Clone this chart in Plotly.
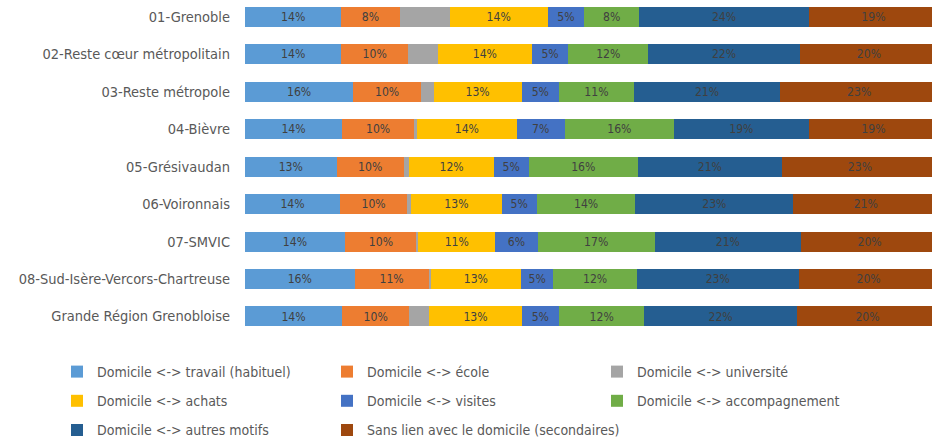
import plotly.graph_objects as go

categories = [
    "01-Grenoble",
    "02-Reste cœur métropolitain",
    "03-Reste métropole",
    "04-Bièvre",
    "05-Grésivaudan",
    "06-Voironnais",
    "07-SMVIC",
    "08-Sud-Isère-Vercors-Chartreuse",
    "Grande Région Grenobloise",
]

series_names = [
    "Domicile <-> travail (habituel)",
    "Domicile <-> école",
    "Domicile <-> université",
    "Domicile <-> achats",
    "Domicile <-> visites",
    "Domicile <-> accompagnement",
    "Domicile <-> autres motifs",
    "Sans lien avec le domicile (secondaires)",
]

travail = [13.9, 13.9, 15.6, 14.0, 13.2, 13.7, 14.4, 15.8, 14.0]
ecole = [8.4, 9.6, 9.8, 10.4, 9.7, 9.7, 10.4, 10.7, 9.7]
universite = [7.2, 4.3, 1.8, 0.4, 0.8, 0.6, 0.2, 0.3, 2.9]
achats = [14.2, 13.6, 12.7, 14.4, 12.2, 13.0, 11.1, 13.0, 13.3]
visites = [5.2, 5.2, 5.4, 6.9, 5.0, 5.1, 6.1, 4.7, 5.4]
accompagnement = [8.0, 11.6, 10.8, 15.8, 15.8, 14.2, 16.9, 12.0, 12.3]
autres = [24.4, 21.8, 21.1, 19.4, 20.7, 22.8, 21.1, 23.4, 22.0]
sans_lien = [18.7, 20.0, 22.8, 18.7, 22.6, 20.9, 19.8, 20.1, 20.4]

series_values = [travail, ecole, universite, achats, visites, accompagnement, autres, sans_lien]
colors = ["#5B9BD5", "#ED7D31", "#A5A5A5", "#FFC000", "#4472C4", "#70AD47", "#255E91", "#9E480E"]
show_labels = [True, True, False, True, True, True, True, True]
legend_ids = ["legend", "legend2", "legend3", "legend", "legend2", "legend3", "legend", "legend2"]

FONT = "DejaVu Sans Condensed, sans-serif"

W, H = 932, 439

fig = go.Figure()
for i, (name, vals) in enumerate(zip(series_names, series_values)):
    fig.add_trace(go.Bar(
        y=categories,
        x=vals,
        name=name,
        orientation="h",
        marker=dict(color=colors[i], line=dict(width=0)),
        texttemplate="%{x:.0f}%" if show_labels[i] else None,
        textposition="inside" if show_labels[i] else "none",
        insidetextanchor="middle",
        textangle=0,
        textfont=dict(family=FONT, size=13, color="#404040"),
        legend=legend_ids[i],
        legendgroup=name,
        hoverinfo="name+x",
    ))

legend_common = dict(
    orientation="v",
    xref="container", yref="container",
    xanchor="left", yanchor="top",
    y=1 - 356 / H,
    font=dict(family=FONT, size=14, color="#595959"),
    tracegroupgap=8,
    bgcolor="rgba(0,0,0,0)",
    itemclick=False, itemdoubleclick=False,
)

fig.update_layout(
    template="none",
    width=W, height=H,
    barmode="stack",
    bargap=0.466,
    uniformtext=dict(minsize=8, mode="show"),
    margin=dict(l=245, r=0, t=0, b=H - 337, autoexpand=False),
    paper_bgcolor="white",
    plot_bgcolor="white",
    font=dict(family=FONT, size=13, color="#595959"),
    xaxis=dict(range=[0, 99.1], visible=False, fixedrange=True),
    yaxis=dict(
        range=[8.55, -0.45],
        showgrid=False, zeroline=False, showline=False,
        ticks="", ticklabelstandoff=14,
        tickfont=dict(family=FONT, size=14.5, color="#595959"),
        fixedrange=True, automargin=False,
    ),
    legend=dict(legend_common, x=57 / W),
    legend2=dict(legend_common, x=327 / W),
    legend3=dict(legend_common, x=597 / W),
)

fig.write_html(
    "out.html",
    config={"responsive": False, "displayModeBar": False},
    post_script="document.body.style.margin='0px'; document.body.style.overflow='hidden';",
)
